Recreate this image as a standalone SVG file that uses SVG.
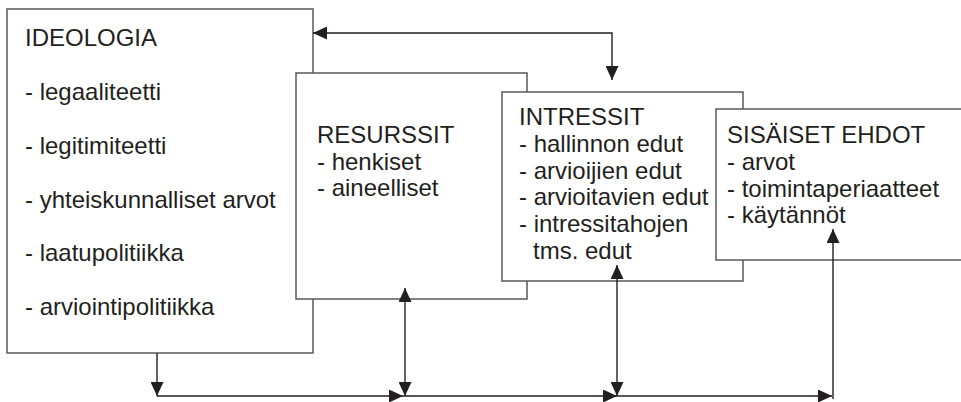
<svg xmlns="http://www.w3.org/2000/svg" width="961" height="402" viewBox="0 0 961 402">
  <style>
    .box { fill: #ffffff; stroke: #58595b; stroke-width: 1.5; }
    .txt { font-family: "Liberation Sans", Arial, sans-serif; font-size: 24px; fill: #231f20; }
    .conn { fill: none; stroke: #231f20; stroke-width: 1.4; }
    .end { marker-end: url(#arrow); }
    .both { marker-start: url(#arrow); marker-end: url(#arrow); }
    .start { marker-start: url(#arrow); }
  </style>
  <defs>
    <marker id="arrow" viewBox="0 0 14 13" refX="14" refY="6.5" markerWidth="14" markerHeight="13" markerUnits="userSpaceOnUse" orient="auto-start-reverse">
      <path d="M0,0 L14,6.5 L0,13 z" fill="#231f20"/>
    </marker>
  </defs>

  <rect width="961" height="402" fill="#ffffff"/>

  <g id="ideologia">
    <rect class="box" x="7" y="9" width="306" height="344"/>
    <text class="txt" x="25" y="46">IDEOLOGIA</text>
    <text class="txt" x="25" y="100">- legaaliteetti</text>
    <text class="txt" x="25" y="154">- legitimiteetti</text>
    <text class="txt" x="25" y="208">- yhteiskunnalliset arvot</text>
    <text class="txt" x="25" y="261">- laatupolitiikka</text>
    <text class="txt" x="25" y="315">- arviointipolitiikka</text>
  </g>

  <g id="resurssit">
    <rect class="box" x="296" y="73" width="231" height="226"/>
    <text class="txt" x="317" y="143">RESURSSIT</text>
    <text class="txt" x="317" y="170">- henkiset</text>
    <text class="txt" x="317" y="196">- aineelliset</text>
  </g>

  <g id="intressit">
    <rect class="box" x="502" y="92" width="241" height="189"/>
    <text class="txt" x="519" y="125">INTRESSIT</text>
    <text class="txt" x="519" y="152">- hallinnon edut</text>
    <text class="txt" x="519" y="179">- arvioijien edut</text>
    <text class="txt" x="519" y="205">- arvioitavien edut</text>
    <text class="txt" x="519" y="232">- intressitahojen</text>
    <text class="txt" x="533" y="259">tms. edut</text>
  </g>

  <g id="sisaiset-ehdot">
    <rect class="box" x="716" y="109" width="252" height="151"/>
    <text class="txt" x="727" y="143">SISÄISET EHDOT</text>
    <text class="txt" x="727" y="170">- arvot</text>
    <text class="txt" x="727" y="197">- toimintaperiaatteet</text>
    <text class="txt" x="727" y="223">- käytännöt</text>
  </g>

  <g id="connectors">
    <path class="conn both" d="M313,33 H612 V80"/>
    <path class="conn end" d="M157,353 V396"/>
    <path class="conn end" d="M157,396 H403"/>
    <path class="conn end" d="M403,396 H617"/>
    <path class="conn end" d="M617,396 H832"/>
    <path class="conn both" d="M405,288 V396"/>
    <path class="conn both" d="M617,265 V396"/>
    <path class="conn start" d="M833,229 V399"/>
  </g>
</svg>
